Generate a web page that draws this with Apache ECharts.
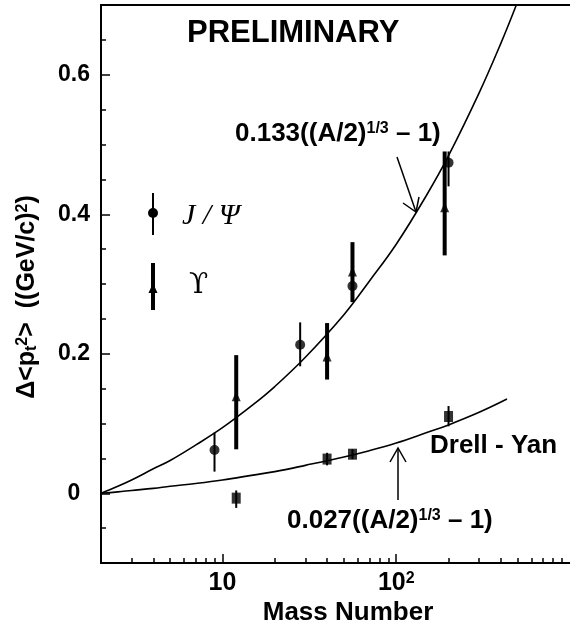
<!DOCTYPE html>
<html><head><meta charset="utf-8">
<script src="https://cdn.jsdelivr.net/npm/echarts@6/dist/echarts.min.js"></script>
<style>html,body{margin:0;padding:0;background:#fff}#c{width:570px;height:629px}</style>
</head><body><div id="c"></div>
<script>
// ---- data ----
var psiA  = [9, 28, 56, 200];
var psiY  = [0.062, 0.213, 0.297, 0.474];
var psiLo = [0.031, 0.182, 0.275, 0.440];
var psiHi = [0.087, 0.245, 0.322, 0.490];

var upsA  = [12, 40, 56, 190];
var upsY  = [0.139, 0.196, 0.318, 0.410];
var upsLo = [0.063, 0.163, 0.274, 0.341];
var upsHi = [0.198, 0.244, 0.360, 0.490];

var dyA  = [12, 40, 56, 200];
var dyY  = [-0.007, 0.049, 0.056, 0.110];
var dyLo = [-0.021, 0.040, 0.049, 0.096];
var dyHi = [0.004, 0.058, 0.063, 0.125];

var fitPsiA = [2, 2.5, 3, 4, 5, 7, 10, 15, 20, 30, 50, 70, 100, 150, 200, 300, 400, 491];
var fitPsiY = [0, 0.010, 0.019, 0.035, 0.047, 0.069, 0.094, 0.127, 0.153, 0.195, 0.256, 0.304, 0.357, 0.428, 0.484, 0.574, 0.645, 0.700];
var fitDyA = [2, 2.5, 3, 4, 5, 7, 10, 15, 20, 30, 50, 70, 100, 150, 200, 300, 434];
var fitDyY = [0, 0.002, 0.004, 0.007, 0.010, 0.014, 0.019, 0.026, 0.031, 0.040, 0.052, 0.061, 0.072, 0.087, 0.098, 0.116, 0.135];

var xMajorTicks = [10, 100];
var xMinorTicks = [3,4,5,6,7,8,9,20,30,40,50,60,70,80,90,200,300,400,500,600,700,800,900];
var yMajorTicks = [0, 0.2, 0.4, 0.6];
var yMinorTicks = [-0.05, 0.05, 0.1, 0.15, 0.25, 0.3, 0.35, 0.45, 0.5, 0.55, 0.65];

// ---- chart ----
var FONT = 'Liberation Sans, Arial, sans-serif';
function zip3(a, b, c) { return a.map(function (v, i) { return [v, b[i], c[i]]; }); }
function zip2(a, b) { return a.map(function (v, i) { return [v, b[i]]; }); }
function errBar(w) {
  return function (params, api) {
    var p1 = api.coord([api.value(0), api.value(1)]);
    var p2 = api.coord([api.value(0), api.value(2)]);
    return { type: 'line', shape: { x1: p1[0], y1: p1[1], x2: p2[0], y2: p2[1] },
      style: { stroke: '#000', lineWidth: w } };
  };
}
var blackLine = { color: '#000', width: 2 };
var tickStyle = { color: '#000', width: 1.5 };
var supStyle = { fontSize: 16, fontWeight: 'bold', fontFamily: FONT, verticalAlign: 'top', padding: [0, 0, 10, 0] };

var chart = echarts.init(document.getElementById('c'));
var option = {
  animation: false,
  backgroundColor: '#fff',
  grid: { left: 101, top: 5, right: 0, bottom: 66 },
  xAxis: [
    { type: 'log', logBase: 10, min: 2, max: 1000, position: 'bottom',
      axisLine: { onZero: false, lineStyle: blackLine },
      axisTick: { inside: true, length: 9, lineStyle: tickStyle, customValues: xMajorTicks },
      axisLabel: { customValues: xMajorTicks, color: '#000', fontFamily: FONT, fontWeight: 'bold', fontSize: 25, margin: 8,
        formatter: function (v) { return v >= 100 ? '10{sup|2}' : '10'; },
        rich: { sup: { fontSize: 16, fontWeight: 'bold', fontFamily: FONT, color: '#000', verticalAlign: 'top', padding: [0, 0, 8, 0] } } },
      splitLine: { show: false } },
    { type: 'log', logBase: 10, min: 2, max: 1000, position: 'bottom',
      axisLine: { show: false, onZero: false },
      axisTick: { inside: true, length: 5, lineStyle: tickStyle, customValues: xMinorTicks },
      axisLabel: { show: false }, splitLine: { show: false } },
    { type: 'log', logBase: 10, min: 2, max: 1000, position: 'top',
      axisLine: { onZero: false, lineStyle: blackLine },
      axisTick: { show: false }, axisLabel: { show: false }, splitLine: { show: false } }
  ],
  yAxis: [
    { type: 'value', min: -0.1, max: 0.7, position: 'left',
      axisLine: { onZero: false, lineStyle: blackLine },
      axisTick: { inside: true, length: 9, lineStyle: tickStyle, customValues: yMajorTicks },
      axisLabel: { customValues: yMajorTicks, color: '#000', fontFamily: FONT, fontWeight: 'bold', fontSize: 23,
        margin: 27, align: 'center',
        formatter: function (v) { return v === 0 ? '0' : v.toFixed(1); } },
      splitLine: { show: false } },
    { type: 'value', min: -0.1, max: 0.7, position: 'left',
      axisLine: { show: false, onZero: false },
      axisTick: { inside: true, length: 5, lineStyle: tickStyle, customValues: yMinorTicks },
      axisLabel: { show: false }, splitLine: { show: false } }
  ],
  series: [
    { type: 'line', data: zip2(fitPsiA, fitPsiY), smooth: 0.4, symbol: 'none',
      lineStyle: { color: '#000', width: 1.6 }, z: 2 },
    { type: 'line', data: zip2(fitDyA, fitDyY), smooth: 0.4, symbol: 'none',
      lineStyle: { color: '#000', width: 1.6 }, z: 2 },
    { type: 'custom', renderItem: errBar(2), data: zip3(psiA, psiLo, psiHi), encode: { x: 0, y: [1, 2] }, z: 3 },
    { type: 'custom', renderItem: errBar(4), data: zip3(upsA, upsLo, upsHi), encode: { x: 0, y: [1, 2] }, z: 3 },
    { type: 'custom', renderItem: errBar(2), data: zip3(dyA, dyLo, dyHi), encode: { x: 0, y: [1, 2] }, z: 3 },
    { type: 'scatter', data: zip2(psiA, psiY), symbol: 'circle', symbolSize: 10,
      itemStyle: { color: '#000' }, z: 4 },
    { type: 'scatter', data: zip2(upsA, upsY), symbol: 'triangle', symbolSize: [9, 10],
      itemStyle: { color: '#000' }, z: 4 },
    { type: 'scatter', data: zip2(dyA, dyY), symbol: 'rect', symbolSize: [9, 11],
      itemStyle: { color: '#000' }, z: 4 }
  ],
  graphic: [
    { type: 'text', x: 187, y: 33, style: { text: 'PRELIMINARY', fill: '#000',
        font: 'bold 31px ' + FONT, verticalAlign: 'middle' } },
    { type: 'text', x: 235, y: 134, style: { text: '0.133((A/2){sup|1/3} \u2013 1)', fill: '#000',
        font: 'bold 26px ' + FONT, verticalAlign: 'middle', rich: { sup: supStyle } } },
    { type: 'text', x: 287, y: 521, style: { text: '0.027((A/2){sup|1/3} \u2013 1)', fill: '#000',
        font: 'bold 26px ' + FONT, verticalAlign: 'middle', rich: { sup: supStyle } } },
    { type: 'text', x: 430, y: 446, style: { text: 'Drell - Yan', fill: '#000',
        font: 'bold 26px ' + FONT, verticalAlign: 'middle' } },
    { type: 'text', x: 348, y: 613, style: { text: 'Mass Number', fill: '#000',
        font: 'bold 26px ' + FONT, align: 'center', verticalAlign: 'middle' } },
    { type: 'text', x: 27, y: 297, rotation: Math.PI / 2,
      style: { text: '\u0394<p{sub|t}{sup|2}>  ((GeV/c){sup|2})', fill: '#000',
        font: 'bold 25px ' + FONT, align: 'center', verticalAlign: 'middle',
        rich: { sub: { fontSize: 16, fontWeight: 'bold', fontFamily: FONT, verticalAlign: 'bottom', padding: [9, 0, 0, 0] },
                sup: { fontSize: 16, fontWeight: 'bold', fontFamily: FONT, verticalAlign: 'top', padding: [0, 0, 9, 0] } } } },
    // legend
    { type: 'line', shape: { x1: 153, y1: 193, x2: 153, y2: 235 }, style: { stroke: '#000', lineWidth: 2 } },
    { type: 'circle', shape: { cx: 153, cy: 213, r: 5 }, style: { fill: '#000' } },
    { type: 'text', x: 182, y: 216, style: { text: 'J / \u03A8', fill: '#000',
        font: 'italic 30px Liberation Serif, DejaVu Serif, serif', verticalAlign: 'middle' } },
    { type: 'line', shape: { x1: 153, y1: 263, x2: 153, y2: 310 }, style: { stroke: '#000', lineWidth: 4 } },
    { type: 'polygon', shape: { points: [[153, 283], [148.5, 293], [157.5, 293]] }, style: { fill: '#000' } },
    { type: 'text', x: 189, y: 286, style: { text: '\u03D2', fill: '#000',
        font: '28px DejaVu Serif, Liberation Serif, serif', verticalAlign: 'middle' } },
    // arrows
    { type: 'line', shape: { x1: 397, y1: 157, x2: 416, y2: 212 }, style: { stroke: '#000', lineWidth: 1.5 } },
    { type: 'polyline', shape: { points: [[403, 203], [416, 212], [419, 197]] }, style: { stroke: '#000', lineWidth: 1.5, fill: null } },
    { type: 'line', shape: { x1: 398, y1: 500, x2: 398, y2: 448 }, style: { stroke: '#000', lineWidth: 1.5 } },
    { type: 'polyline', shape: { points: [[390, 462], [398, 448], [406, 462]] }, style: { stroke: '#000', lineWidth: 1.5, fill: null } }
  ]
};
chart.setOption(option);
</script></body></html>
